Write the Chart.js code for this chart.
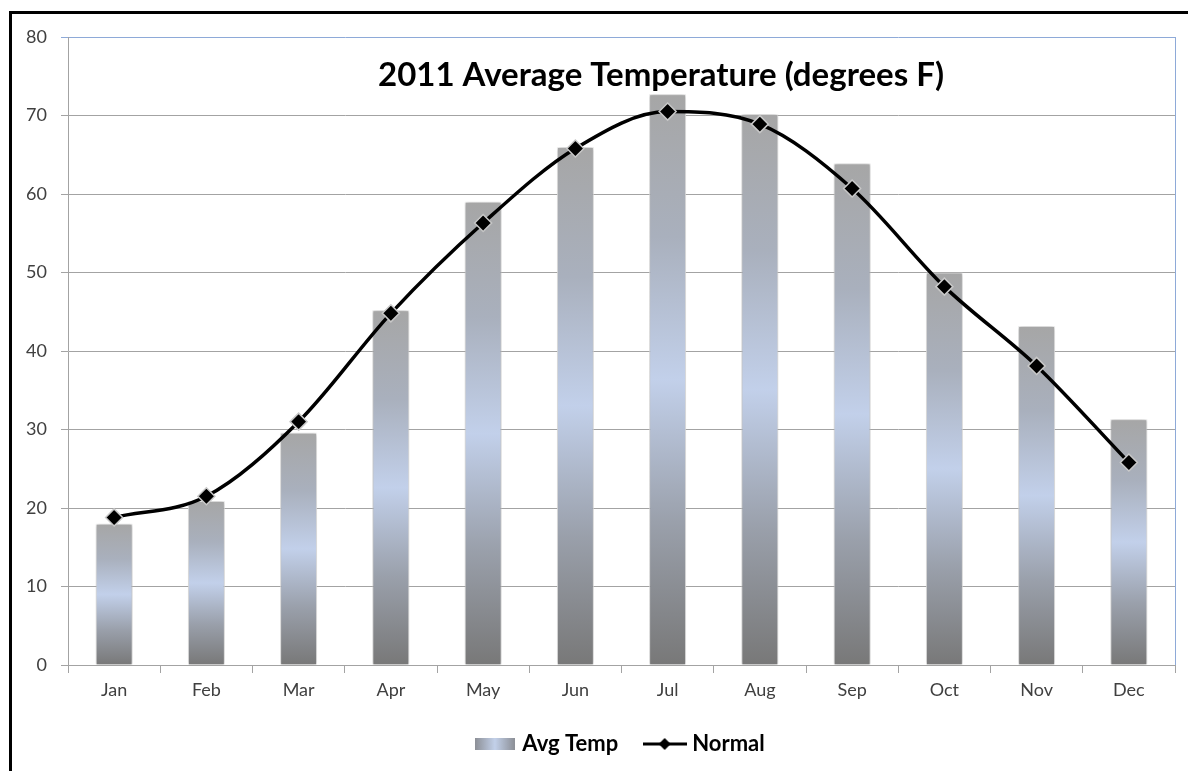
<!DOCTYPE html>
<html>
<head>
<meta charset="utf-8">
<script src="https://cdn.jsdelivr.net/npm/chart.js@4"></script>
<style>
  html, body { margin: 0; padding: 0; background: #fff; }
  #wrap { position: relative; width: 1188px; height: 771px; overflow: hidden; }
  #frame { position: absolute; left: 9px; top: 11px; width: 1300px; height: 900px;
           border-left: 3px solid #000; border-top: 3px solid #000; pointer-events: none; }
  canvas { position: absolute; left: 0; top: 0; }
</style>
</head>
<body>
<div id="wrap">
  <canvas id="chart" width="1188" height="771"></canvas>
  <div id="frame"></div>
</div>
<script>
  const months = ['Jan', 'Feb', 'Mar', 'Apr', 'May', 'Jun', 'Jul', 'Aug', 'Sep', 'Oct', 'Nov', 'Dec'];
  const avgTemp = [18.0, 20.9, 29.6, 45.2, 59.0, 66.0, 72.7, 70.2, 63.9, 50.0, 43.2, 31.3];
  const normal = [18.8, 21.5, 31.0, 44.8, 56.3, 65.8, 70.5, 68.9, 60.7, 48.2, 38.1, 25.8];
  const yTicks = [0, 10, 20, 30, 40, 50, 60, 70, 80];
  const title = '2011 Average Temperature (degrees F)';

  const fontFamily = 'Lato, "Open Sans", sans-serif';
  const textColor = '#404040';
  const gridColor = '#a3a3a3';
  const frameBlue = '#8eaad8';

  // vertical steel gradient used for each bar
  function barGradient(ctx, top, base) {
    const g = ctx.createLinearGradient(0, top, 0, base);
    g.addColorStop(0, '#a6a6a6');
    g.addColorStop(0.25, '#a9b0bd');
    g.addColorStop(0.5, '#c2d0ea');
    g.addColorStop(0.75, '#9aa0ab');
    g.addColorStop(1, '#787878');
    return g;
  }

  // small icons for the legend
  function barIcon() {
    const c = document.createElement('canvas');
    c.width = 40; c.height = 12;
    const x = c.getContext('2d');
    const g = x.createLinearGradient(0, 0, 40, 0);
    g.addColorStop(0, '#8c8f96');
    g.addColorStop(0.5, '#c3d1ea');
    g.addColorStop(1, '#8c8f96');
    x.fillStyle = g;
    x.fillRect(0, 0, 40, 12);
    return c;
  }

  function lineIcon() {
    const c = document.createElement('canvas');
    c.width = 44; c.height = 14;
    const x = c.getContext('2d');
    x.strokeStyle = '#000';
    x.lineWidth = 3;
    x.beginPath(); x.moveTo(0, 7); x.lineTo(44, 7); x.stroke();
    x.fillStyle = '#000';
    x.beginPath(); x.moveTo(22, 1); x.lineTo(28, 7); x.lineTo(22, 13); x.lineTo(16, 7); x.closePath(); x.fill();
    return c;
  }

  const barShadow = {
    id: 'barShadow',
    beforeDatasetDraw(chart, args) {
      if (args.index !== 0) return;
      const ctx = chart.ctx;
      ctx.save();
      ctx.shadowColor = 'rgba(0,0,0,0.35)';
      ctx.shadowBlur = 4;
    },
    afterDatasetDraw(chart, args) {
      if (args.index !== 0) return;
      chart.ctx.restore();
    }
  };

  const plotDecor = {
    id: 'plotDecor',
    afterDraw(chart) {
      const ctx = chart.ctx;
      const a = chart.chartArea;
      ctx.save();
      ctx.strokeStyle = frameBlue;
      ctx.lineWidth = 1;
      ctx.beginPath();
      ctx.moveTo(a.right + 0.5, a.top);
      ctx.lineTo(a.right + 0.5, a.bottom);
      ctx.stroke();
      ctx.fillStyle = '#000';
      ctx.font = 'bold 33px ' + fontFamily;
      ctx.textAlign = 'center';
      ctx.textBaseline = 'middle';
      ctx.fillText(title, 661, 75);
      ctx.restore();
    }
  };

  const ctx = document.getElementById('chart').getContext('2d');

  new Chart(ctx, {
    type: 'bar',
    data: {
      labels: months,
      datasets: [
        {
          type: 'bar',
          label: 'Avg Temp',
          data: avgTemp,
          order: 1,
          backgroundColor: (c) => {
            const chart = c.chart;
            const ys = chart.scales.y;
            if (c.type !== 'data' || !ys) return '#a6a6a6';
            const top = ys.getPixelForValue(c.raw);
            const base = ys.getPixelForValue(0);
            if (!isFinite(top) || !isFinite(base) || top === base) return '#a6a6a6';
            return barGradient(chart.ctx, top, base);
          },
          borderColor: 'rgba(255,255,255,0.9)',
          borderWidth: 1,
          categoryPercentage: 1,
          barPercentage: 0.4,
        },
        {
          type: 'line',
          label: 'Normal',
          data: normal,
          order: 0,
          borderColor: '#000',
          borderWidth: 3.5,
          cubicInterpolationMode: 'monotone',
          pointStyle: 'rectRot',
          pointRadius: 8.5,
          pointBackgroundColor: '#000',
          pointBorderColor: '#c8c8c8',
          pointBorderWidth: 1.5,
          pointHoverRadius: 8.5,
        },
      ],
    },
    options: {
      responsive: false,
      animation: false,
      events: [],
      layout: { padding: { top: 37, right: 13, left: 0, bottom: 6 } },
      scales: {
        x: {
          offset: true,
          grid: {
            offset: true,
            drawOnChartArea: false,
            drawTicks: true,
            tickLength: 8,
            color: gridColor,
          },
          border: { color: gridColor },
          ticks: { color: textColor, font: { family: fontFamily, size: 18 }, padding: 6 },
          afterFit(scale) { scale.height = 38; },
        },
        y: {
          min: 0,
          max: 80,
          afterBuildTicks(scale) { scale.ticks = yTicks.map((v) => ({ value: v })); },
          grid: {
            color: (c) => (c.tick && c.tick.value === 80 ? frameBlue : gridColor),
            tickLength: 7,
          },
          border: { color: gridColor },
          ticks: { color: textColor, font: { family: fontFamily, size: 18 }, padding: 14 },
          afterFit(scale) { scale.width = 68; },
        },
      },
      plugins: {
        title: { display: false },
        tooltip: { enabled: false },
        legend: {
          position: 'bottom',
          fullSize: false,
          labels: {
            usePointStyle: true,
            pointStyleWidth: 33,
            padding: 30,
            color: '#000',
            font: { family: fontFamily, size: 22, weight: 'bold' },
            generateLabels() {
              return [
                { text: 'Avg Temp', pointStyle: barIcon(), datasetIndex: 0, lineWidth: 0, fontColor: '#000' },
                { text: 'Normal', pointStyle: lineIcon(), datasetIndex: 1, lineWidth: 0, fontColor: '#000' },
              ];
            },
          },
        },
      },
    },
    plugins: [barShadow, plotDecor],
  });
</script>
</body>
</html>
